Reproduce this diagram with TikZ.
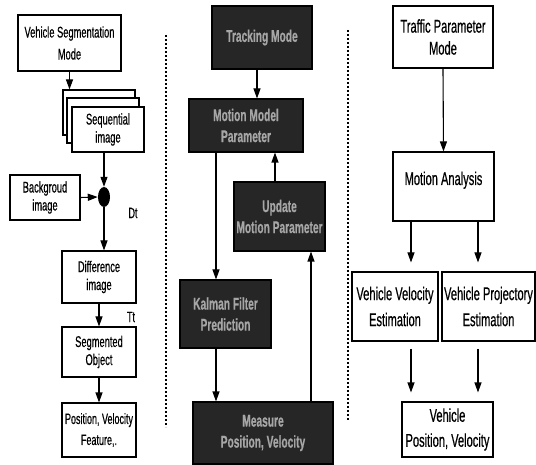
\documentclass[tikz,border=0pt]{standalone}
\usepackage{fontspec}
\setmainfont{Liberation Sans}[FakeStretch=0.6,FakeBold=0.5]
\usetikzlibrary{arrows.meta,shapes.geometric}
\begin{document}
\begin{tikzpicture}[x=1pt,y=-1pt,
  box/.style={draw,line width=1.1pt,fill=white,inner sep=0pt,align=center,font=\fontsize{15.5}{18}\selectfont},
  rbox/.style={box,font=\fontsize{18.5}{26}\selectfont},
  dark/.style={draw,line width=1.1pt,fill=black!85,text=black!35,inner sep=0pt,align=center,font=\fontsize{17}{21}\selectfont\bfseries},
  arr/.style={line width=1.1pt,-{Triangle[width=7pt,length=10pt]}},
  sep/.style={line width=2pt,dash pattern=on 1.8pt off 2.2pt},
  lab/.style={font=\fontsize{15}{15}\selectfont,inner sep=0pt}]
\useasboundingbox (0,0) rectangle (536,465);
\fill[white] (0,0) rectangle (536,465);

% separators
\draw[sep] (166,35) -- (166,427);
\draw[sep] (348,30) -- (348,420);

% left column
\node[box,minimum width=103pt,minimum height=56pt,font=\fontsize{15.5}{22}\selectfont] (vsm) at (69.5,43) {Vehicle Segmentation\\Mode};
\node[box,minimum width=72pt,minimum height=45pt] (s1) at (99,112.5) {};
\node[box,minimum width=72pt,minimum height=45pt] (s2) at (103,120.5) {};
\node[box,minimum width=72pt,minimum height=45pt] (s3) at (108,129.5) {Sequential\\image};
\node[ellipse,fill=black,minimum width=12pt,minimum height=20pt,inner sep=0pt] (sum) at (104,197) {};
\node[box,minimum width=70pt,minimum height=45pt] (bg) at (45,197.5) {Backgroud\\image};
\node[lab] (dt) at (133,213) {Dt};
\node[box,minimum width=74pt,minimum height=52pt] (diff) at (99,277) {Difference\\image};
\node[lab] (tt) at (131,317) {Tt};
\node[box,minimum width=74pt,minimum height=50pt] (seg) at (99,352) {Segmented\\Object};
\node[box,minimum width=74pt,minimum height=54pt,font=\fontsize{15}{21}\selectfont] (pos) at (99,430) {Position, Velocity\\Feature,.};

\draw[arr] (vsm.south) -- (vsm.south |- s1.north);
\draw[arr] (s3.south -| sum.north) -- (sum.north);
\draw[arr] (bg.east) -- (sum.west);
\draw[arr] (sum.south) -- (sum.south |- diff.north);
\draw[arr] (diff.south) -- (seg.north);
\draw[arr] (seg.south) -- (pos.north);

% middle column
\node[dark,minimum width=100pt,minimum height=63pt] (track) at (262,37.5) {Tracking Mode};
\node[dark,minimum width=114pt,minimum height=53pt] (mmp) at (246,125.5) {Motion Model\\Parameter};
\node[dark,minimum width=91pt,minimum height=69pt] (upd) at (279.5,216.5) {Update\\Motion Parameter};
\node[dark,minimum width=91pt,minimum height=68pt] (kal) at (225.5,314) {Kalman Filter\\Prediction};
\node[dark,minimum width=140pt,minimum height=62pt] (meas) at (263,433) {Measure\\Position, Velocity};

\coordinate (xa) at (257,0);
\coordinate (xb) at (216,0);
\coordinate (xc) at (311,0);
\coordinate (xd) at (275,0);
\draw[arr] (track.south -| xa) -- (mmp.north -| xa);
\draw[arr] (mmp.south -| xb) -- (kal.north -| xb);
\draw[arr] (kal.south -| xb) -- (meas.north -| xb);
\draw[arr] (meas.north -| xc) -- (upd.south -| xc);
\draw[arr] (upd.north -| xd) -- (mmp.south -| xd);

% right column
\node[rbox,minimum width=100pt,minimum height=62pt,font=\fontsize{18.5}{22}\selectfont] (tpm) at (443,37) {Traffic Parameter\\Mode};
\node[rbox,minimum width=101pt,minimum height=69pt,text height=13pt,text depth=16pt] (ma) at (443.5,186.5) {Motion Analysis};
\node[rbox,minimum width=86pt,minimum height=69pt] (vve) at (395,306.5) {Vehicle Velocity\\Estimation};
\node[rbox,minimum width=93pt,minimum height=69pt] (vpe) at (488.5,306.5) {Vehicle Projectory\\Estimation};
\node[rbox,minimum width=91pt,minimum height=55pt,font=\fontsize{18.5}{25}\selectfont] (vpv) at (447.5,429.5) {Vehicle\\Position, Velocity};

\coordinate (xl) at (411,0);
\coordinate (xr) at (478,0);
\draw[arr] (tpm.south) -- (ma.north);
\draw[arr,shorten >=9pt] (ma.south -| xl) -- (vve.north -| xl);
\draw[arr,shorten >=9pt] (ma.south -| xr) -- (vpe.north -| xr);
\draw[arr,shorten <=7pt,shorten >=9pt] (vve.south -| xl) -- (vpv.north -| xl);
\draw[arr,shorten <=7pt,shorten >=9pt] (vpe.south -| xr) -- (vpv.north -| xr);
\end{tikzpicture}
\end{document}
